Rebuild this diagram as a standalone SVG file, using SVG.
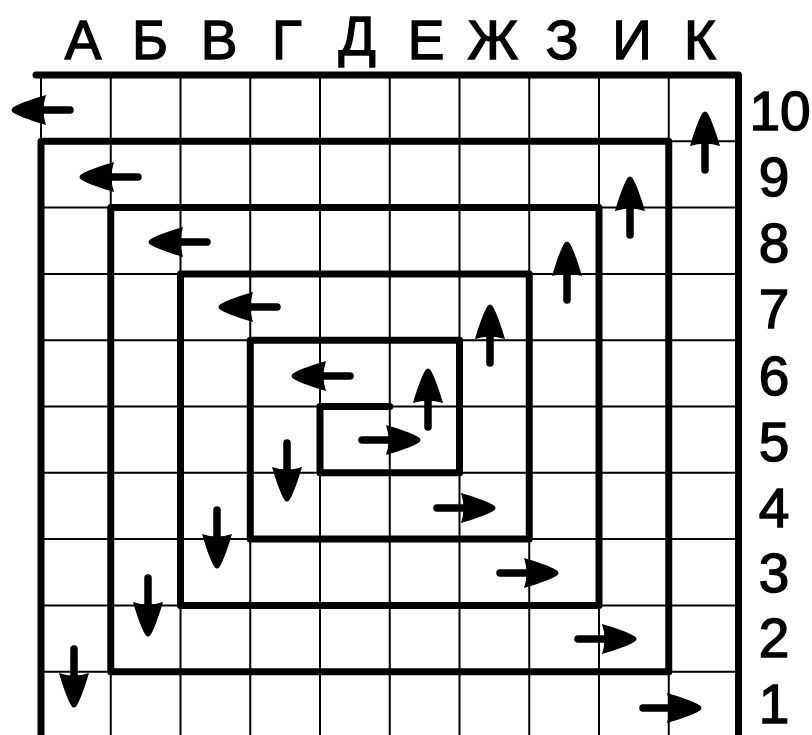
<svg xmlns="http://www.w3.org/2000/svg" xmlns:xlink="http://www.w3.org/1999/xlink" width="812" height="735" viewBox="0 0 812 735">
  <style>
    .thin { stroke: #000; stroke-width: 2; fill: none; }
    .thick { stroke: #000; stroke-width: 7; fill: none; stroke-linecap: round; stroke-linejoin: round; }
    .lbl { font-family: "Liberation Sans", Arial, sans-serif; font-size: 55px; fill: #000; stroke: #000; stroke-width: 1.4; text-anchor: middle; }
  </style>
  <defs>
    <g id="arr">
      <line x1="0" y1="0" x2="30" y2="0" stroke="#000" stroke-width="7.5" stroke-linecap="round"/>
      <path d="M24,-15 C34,-12 50,-7 57,-2.5 Q60,0 57,2.5 C50,7 34,12 24,15 Q29,0 24,-15 Z" fill="#000"/>
    </g>
  </defs>
  <rect x="0" y="0" width="812" height="735" fill="#fff"/>

  <g id="grid">
    <path class="thin" d="M41,75V740 M110.75,75V740 M180.5,75V740 M250.25,75V740 M320,75V740 M389.75,75V740 M459.5,75V740 M529.25,75V740 M599,75V740 M668.75,75V740
      M41,141.3H738.5 M41,207.6H738.5 M41,273.9H738.5 M41,340.2H738.5 M41,406.5H738.5 M41,472.8H738.5 M41,539.1H738.5 M41,605.4H738.5 M41,671.7H738.5"/>
  </g>

  <g id="spiral">
    <path class="thick" d="M36,75H738.5V745"/>
    <path class="thick" d="M389.75,406.5H320V472.8H459.5V340.2H250.25V539.1H529.25V273.9H180.5V605.4H599V207.6H110.75V671.7H668.75V141.3H41V745"/>
  </g>

  <g id="column-labels">
    <text class="lbl" x="83" y="59">А</text>
    <text class="lbl" x="150" y="59">Б</text>
    <text class="lbl" x="219" y="59">В</text>
    <text class="lbl" x="287" y="59">Г</text>
    <text class="lbl" x="357" y="55">Д</text>
    <text class="lbl" x="426" y="59">Е</text>
    <text class="lbl" x="493" y="59">Ж</text>
    <text class="lbl" x="562" y="59">З</text>
    <text class="lbl" x="632" y="59">И</text>
    <text class="lbl" x="700" y="59">К</text>
  </g>

  <g id="row-labels">
    <text class="lbl" x="780" y="130">10</text>
    <text class="lbl" x="774" y="196">9</text>
    <text class="lbl" x="774" y="262">8</text>
    <text class="lbl" x="774" y="328">7</text>
    <text class="lbl" x="774" y="395">6</text>
    <text class="lbl" x="774" y="461">5</text>
    <text class="lbl" x="774" y="527">4</text>
    <text class="lbl" x="774" y="592">3</text>
    <text class="lbl" x="774" y="657">2</text>
    <text class="lbl" x="774" y="723">1</text>
  </g>

  <g id="arrows">
    <use xlink:href="#arr" href="#arr" transform="translate(70,110) rotate(180)"/>
    <use xlink:href="#arr" href="#arr" transform="translate(138,177) rotate(180)"/>
    <use xlink:href="#arr" href="#arr" transform="translate(207,242) rotate(180)"/>
    <use xlink:href="#arr" href="#arr" transform="translate(277,307) rotate(180)"/>
    <use xlink:href="#arr" href="#arr" transform="translate(350,376) rotate(180)"/>

    <use xlink:href="#arr" href="#arr" transform="translate(705,170) rotate(-90)"/>
    <use xlink:href="#arr" href="#arr" transform="translate(630,235) rotate(-90)"/>
    <use xlink:href="#arr" href="#arr" transform="translate(567,300) rotate(-90)"/>
    <use xlink:href="#arr" href="#arr" transform="translate(490,363) rotate(-90)"/>
    <use xlink:href="#arr" href="#arr" transform="translate(428,427) rotate(-90)"/>

    <use xlink:href="#arr" href="#arr" transform="translate(362,440)"/>
    <use xlink:href="#arr" href="#arr" transform="translate(437,508)"/>
    <use xlink:href="#arr" href="#arr" transform="translate(500,573)"/>
    <use xlink:href="#arr" href="#arr" transform="translate(578,639)"/>
    <use xlink:href="#arr" href="#arr" transform="translate(643,708)"/>

    <use xlink:href="#arr" href="#arr" transform="translate(287,443) rotate(90)"/>
    <use xlink:href="#arr" href="#arr" transform="translate(217,510) rotate(90)"/>
    <use xlink:href="#arr" href="#arr" transform="translate(148,578) rotate(90)"/>
    <use xlink:href="#arr" href="#arr" transform="translate(74,649) rotate(90)"/>
  </g>
</svg>
